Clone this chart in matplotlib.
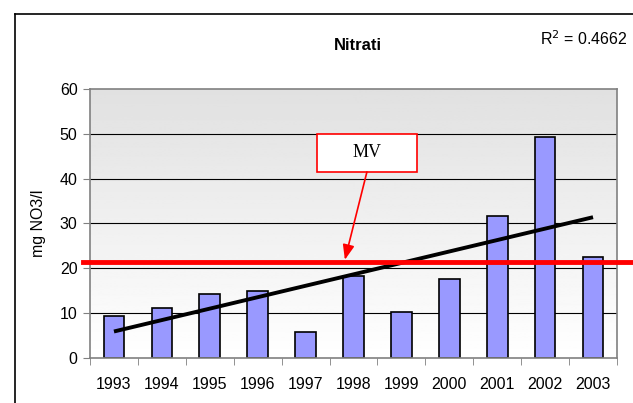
import numpy as np
import matplotlib.pyplot as plt
from matplotlib.lines import Line2D
from matplotlib.patches import Rectangle

plt.rcParams['font.family'] = ['Liberation Sans', 'DejaVu Sans']

years = ['1993', '1994', '1995', '1996', '1997', '1998', '1999', '2000', '2001', '2002', '2003']
nitrati = [9.4, 11.1, 14.3, 14.9, 5.9, 18.3, 10.2, 17.6, 31.6, 49.3, 22.6]
mv_value = 21.5
r2_text = 'R$^2$ = 0.4662'

fig = plt.figure(figsize=(6.33, 4.03), dpi=100)
ax = fig.add_axes([0.1422, 0.1117, 0.8325, 0.6675])

x = np.arange(len(years))

# grey (top) to white (bottom) background gradient
grad = np.linspace(0.88, 1.0, 256).reshape(-1, 1)
ax.imshow(grad, cmap='gray', vmin=0, vmax=1, aspect='auto',
          extent=(-0.5, len(years) - 0.5, 0, 60), zorder=0)
ax.set_xlim(-0.5, len(years) - 0.5)
ax.set_ylim(0, 60)

for v in range(10, 60, 10):
    ax.axhline(v, color='black', lw=0.8, zorder=1)

ax.bar(x, nitrati, width=0.43, color='#9999ff', edgecolor='black', lw=1.2, zorder=2)

# linear trend
k, q = np.polyfit(x, nitrati, 1)
ax.plot([x[0], x[-1]], [q, k * x[-1] + q], color='black', lw=2.8, zorder=3,
        solid_capstyle='butt')

ax.axhline(mv_value, color='red', lw=3.5, zorder=4, xmin=-0.013, xmax=1.05, clip_on=False)

# MV label box with arrow onto the limit line
ax.add_patch(Rectangle((4.24, 41.5), 2.09, 8.5, fc='white', ec='red', lw=1.2, zorder=5))
ax.text(5.285, 45.9, 'MV', fontsize=13, family='Liberation Serif',
        ha='center', va='center', zorder=6)
ax.annotate('', xy=(4.82, mv_value + 0.4), xytext=(5.28, 41.5),
            arrowprops=dict(arrowstyle='-|>,head_length=0.9,head_width=0.35',
                            color='red', lw=1.2, shrinkA=0, shrinkB=0),
            zorder=5)

for s in ax.spines.values():
    s.set_color('#808080')
    s.set_linewidth(1.2)

ax.set_yticks(range(0, 61, 10))
ax.set_xticks(x)
ax.set_xticklabels(years)
ax.set_xticks(np.arange(-0.5, len(years), 1), minor=True)
ax.tick_params(axis='x', which='major', length=0, pad=14, labelsize=11.5)
ax.tick_params(axis='x', which='minor', length=5, color='#808080')
ax.tick_params(axis='y', length=5, color='#808080', labelsize=11.5, pad=4)
ax.set_ylabel('mg NO3/l', fontsize=11.5, labelpad=10)

fig.text(0.565, 0.888, 'Nitrati', fontsize=12, weight='bold', ha='center', va='center')
fig.text(0.992, 0.905, r2_text, fontsize=11.5, ha='right', va='center')

# outer chart frame
fig.add_artist(Line2D([0.0237, 0.0237], [0, 0.9653], color='black', lw=1.2))
fig.add_artist(Line2D([0.0237, 1.0], [0.9653, 0.9653], color='black', lw=1.2))

fig.savefig('out.png', dpi=100)
